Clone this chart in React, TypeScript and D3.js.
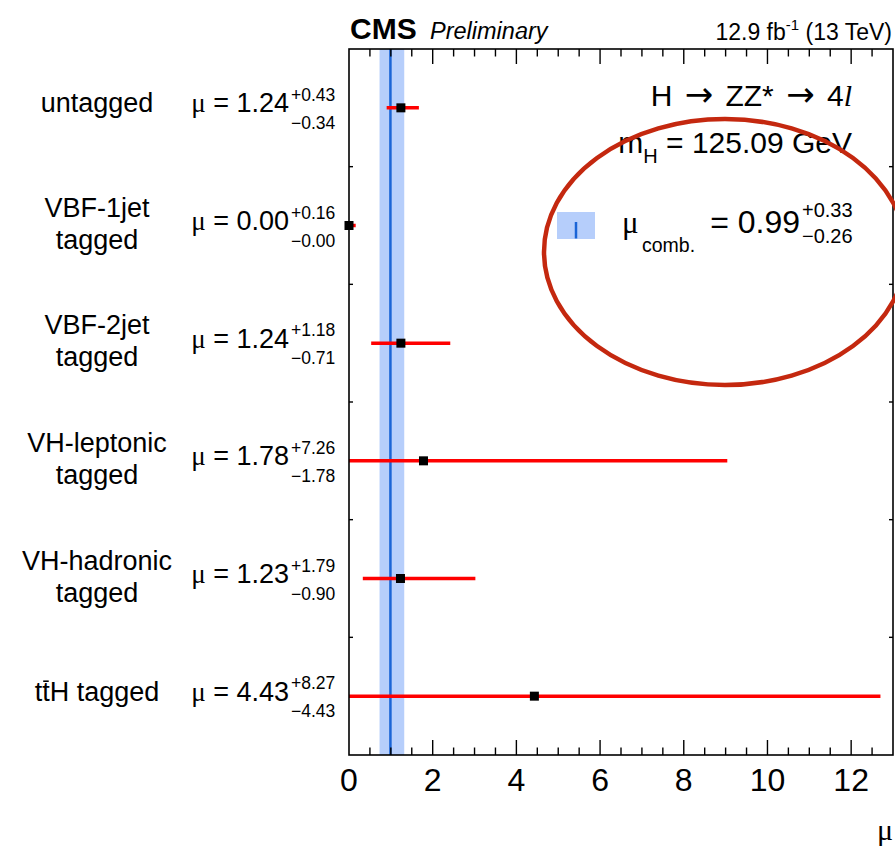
import React, { useEffect, useRef } from "react";
import * as d3 from "d3";

// Signal strength per event category, H -> ZZ* -> 4l
const categoryLabels: string[][] = [
  ["untagged"],
  ["VBF-1jet", "tagged"],
  ["VBF-2jet", "tagged"],
  ["VH-leptonic", "tagged"],
  ["VH-hadronic", "tagged"],
  ["tt\u0304H tagged"],
];
const muValues = [1.24, 0.0, 1.24, 1.78, 1.23, 4.43];
const errUp = [0.43, 0.16, 1.18, 7.26, 1.79, 8.27];
const errDown = [0.34, 0.0, 0.71, 1.78, 0.9, 4.43];

// Combined fit result
const combMu = 0.99;
const combUp = 0.33;
const combDown = 0.26;

const xDomain = [0, 13];
const xMajorTicks = [0, 2, 4, 6, 8, 10, 12];
const xMinorStep = 0.5;

const W = 895;
const H = 848;
const SANS = "'Liberation Sans', Arial, Helvetica, sans-serif";
const SERIF = "'Liberation Serif', 'Times New Roman', serif";
const ARROW_FONT = "'DejaVu Sans', sans-serif";
const BAND = "#b6cefb";
const BLUE = "#1a64d6";
const RED = "#ff0000";

export default function App() {
  const ref = useRef<SVGSVGElement>(null);

  useEffect(() => {
    const svg = d3.select(ref.current);
    svg.selectAll("*").remove();

    const left = 349, right = 893, top = 49, bottom = 755;
    const x = d3.scaleLinear().domain(xDomain).range([left, right]);
    const y = d3
      .scaleBand<number>()
      .domain(d3.range(muValues.length))
      .range([top, bottom])
      .padding(0);
    const cy = (i: number) => (y(i) as number) + y.bandwidth() / 2;
    const fmt = d3.format(".2f");

    svg.append("rect").attr("width", W).attr("height", H).attr("fill", "#fff");

    // combined band + central value
    svg
      .append("rect")
      .attr("x", x(combMu - combDown))
      .attr("y", top)
      .attr("width", x(combMu + combUp) - x(combMu - combDown))
      .attr("height", bottom - top)
      .attr("fill", BAND);
    svg
      .append("line")
      .attr("x1", x(combMu))
      .attr("x2", x(combMu))
      .attr("y1", top)
      .attr("y2", bottom)
      .attr("stroke", BLUE)
      .attr("stroke-width", 2.5);

    const idx = d3.range(muValues.length);

    // per-category error bars
    svg
      .append("g")
      .selectAll("line")
      .data(idx)
      .join("line")
      .attr("x1", (i) => x(muValues[i] - errDown[i]))
      .attr("x2", (i) => x(muValues[i] + errUp[i]))
      .attr("y1", cy)
      .attr("y2", cy)
      .attr("stroke", RED)
      .attr("stroke-width", 3.5);

    const ms = 9;
    svg
      .append("g")
      .selectAll("rect")
      .data(idx)
      .join("rect")
      .attr("x", (i) => x(muValues[i]) - ms / 2)
      .attr("y", (i) => cy(i) - ms / 2)
      .attr("width", ms)
      .attr("height", ms)
      .attr("fill", "#000");

    // frame
    svg
      .append("rect")
      .attr("x", left)
      .attr("y", top)
      .attr("width", right - left)
      .attr("height", bottom - top)
      .attr("fill", "none")
      .attr("stroke", "#000")
      .attr("stroke-width", 1.6);

    // x ticks, bottom and top
    const minor = d3
      .range(xDomain[0], xDomain[1], xMinorStep)
      .filter((v) => !xMajorTicks.includes(v) && v > xDomain[0]);
    const tg = svg.append("g").attr("stroke", "#000").attr("stroke-width", 1.4);
    xMajorTicks
      .filter((v) => v > xDomain[0])
      .forEach((v) => {
        tg.append("line").attr("x1", x(v)).attr("x2", x(v)).attr("y1", bottom).attr("y2", bottom - 15);
        tg.append("line").attr("x1", x(v)).attr("x2", x(v)).attr("y1", top).attr("y2", top + 15);
      });
    minor.forEach((v) => {
      tg.append("line").attr("x1", x(v)).attr("x2", x(v)).attr("y1", bottom).attr("y2", bottom - 7.5);
      tg.append("line").attr("x1", x(v)).attr("x2", x(v)).attr("y1", top).attr("y2", top + 7.5);
    });
    // y ticks at category boundaries
    idx.slice(1).forEach((i) => {
      const yy = y(i) as number;
      tg.append("line").attr("x1", left).attr("x2", left + 4).attr("y1", yy).attr("y2", yy);
      tg.append("line").attr("x1", right).attr("x2", right - 4).attr("y1", yy).attr("y2", yy);
    });

    // x tick labels
    svg
      .append("g")
      .selectAll("text")
      .data(xMajorTicks)
      .join("text")
      .attr("x", (v) => x(v))
      .attr("y", 791)
      .attr("text-anchor", "middle")
      .attr("font-family", SANS)
      .attr("font-size", 32)
      .attr("fill", "#000")
      .text((v) => String(v));

    // axis title
    svg
      .append("text")
      .attr("x", right)
      .attr("y", 840)
      .attr("text-anchor", "end")
      .attr("font-family", SERIF)
      .attr("font-size", 30)
      .text("\u03bc");

    // category names
    const labelFs = 27;
    idx.forEach((i) => {
      const lines = categoryLabels[i];
      const base = lines.length === 1 ? cy(i) + 4.5 : cy(i) - 9;
      lines.forEach((s, k) => {
        const barPos = s.indexOf("\u0304");
        const plain = s.replace("\u0304", "");
        const t = svg
          .append("text")
          .attr("x", 97)
          .attr("y", base + k * 32)
          .attr("text-anchor", "middle")
          .attr("font-family", SANS)
          .attr("font-size", labelFs)
          .attr("fill", "#000")
          .text(plain);
        if (barPos > 0) {
          const node = t.node() as SVGTextElement;
          const ext = node.getExtentOfChar(barPos - 1);
          const by = base + k * 32 - 0.72 * labelFs;
          svg
            .append("line")
            .attr("x1", ext.x + 1)
            .attr("x2", ext.x + ext.width - 1)
            .attr("y1", by)
            .attr("y2", by)
            .attr("stroke", "#000")
            .attr("stroke-width", 1.6);
        }
      });

      // mu value with asymmetric errors
      const mt = svg
        .append("text")
        .attr("x", 289)
        .attr("y", cy(i) + 4.5)
        .attr("text-anchor", "end")
        .attr("font-size", 27)
        .attr("fill", "#000");
      mt.append("tspan").attr("font-family", SERIF).text("\u03bc");
      mt.append("tspan").attr("font-family", SANS).text(" = " + fmt(muValues[i]));
      svg
        .append("text")
        .attr("x", 291)
        .attr("y", cy(i) - 7)
        .attr("font-family", SANS)
        .attr("font-size", 17.5)
        .text("+" + fmt(errUp[i]));
      svg
        .append("text")
        .attr("x", 291)
        .attr("y", cy(i) + 21)
        .attr("font-family", SANS)
        .attr("font-size", 17.5)
        .text("\u2212" + fmt(errDown[i]));
    });

    // header
    svg
      .append("text")
      .attr("x", 350)
      .attr("y", 39)
      .attr("font-family", SANS)
      .attr("font-weight", "bold")
      .attr("font-size", 30)
      .text("CMS");
    svg
      .append("text")
      .attr("x", 430)
      .attr("y", 39)
      .attr("font-family", SANS)
      .attr("font-style", "italic")
      .attr("font-size", 23.5)
      .text("Preliminary");
    const lumi = svg
      .append("text")
      .attr("x", 892)
      .attr("y", 40)
      .attr("text-anchor", "end")
      .attr("font-family", SANS)
      .attr("font-size", 23);
    lumi.append("tspan").text("12.9 fb");
    lumi.append("tspan").attr("font-size", 15).attr("dy", -10).text("-1");
    lumi.append("tspan").attr("dy", 10).text(" (13 TeV)");

    // process / mass annotation
    const proc = svg
      .append("text")
      .attr("x", 852)
      .attr("y", 106)
      .attr("text-anchor", "end")
      .attr("font-family", SANS)
      .attr("font-size", 30);
    proc.append("tspan").text("H ");
    proc.append("tspan").attr("font-family", ARROW_FONT).attr("font-size", 34).attr("dx", 4).text("\u2192");
    proc.append("tspan").attr("dx", 4).text(" ZZ* ");
    proc.append("tspan").attr("font-family", ARROW_FONT).attr("font-size", 34).attr("dx", 4).text("\u2192");
    proc.append("tspan").attr("dx", 4).text(" 4");
    proc.append("tspan").attr("font-family", SERIF).attr("font-style", "italic").text("l");

    const mass = svg
      .append("text")
      .attr("x", 852)
      .attr("y", 153)
      .attr("text-anchor", "end")
      .attr("font-family", SANS)
      .attr("font-size", 30);
    mass.append("tspan").text("m");
    mass.append("tspan").attr("font-size", 20).attr("dy", 10).text("H");
    mass.append("tspan").attr("dy", -10).text(" = 125.09 GeV");

    // legend entry for the combined result
    svg
      .append("rect")
      .attr("x", 557)
      .attr("y", 212)
      .attr("width", 38)
      .attr("height", 27)
      .attr("fill", BAND);
    svg
      .append("line")
      .attr("x1", 576)
      .attr("x2", 576)
      .attr("y1", 222)
      .attr("y2", 238.5)
      .attr("stroke", BLUE)
      .attr("stroke-width", 2.5);
    svg
      .append("text")
      .attr("x", 622)
      .attr("y", 233)
      .attr("font-family", SERIF)
      .attr("font-size", 31)
      .text("\u03bc");
    svg
      .append("text")
      .attr("x", 642)
      .attr("y", 252)
      .attr("font-family", SANS)
      .attr("font-size", 19.5)
      .text("comb.");
    svg
      .append("text")
      .attr("x", 800)
      .attr("y", 233)
      .attr("text-anchor", "end")
      .attr("font-family", SANS)
      .attr("font-size", 32)
      .text("= " + fmt(combMu));
    svg
      .append("text")
      .attr("x", 802)
      .attr("y", 217)
      .attr("font-family", SANS)
      .attr("font-size", 20)
      .text("+" + fmt(combUp));
    svg
      .append("text")
      .attr("x", 802)
      .attr("y", 243)
      .attr("font-family", SANS)
      .attr("font-size", 20)
      .text("\u2212" + fmt(combDown));

    // highlight ring around the combined result
    svg
      .append("ellipse")
      .attr("cx", 725)
      .attr("cy", 252)
      .attr("rx", 181)
      .attr("ry", 133)
      .attr("fill", "none")
      .attr("stroke", "#c4280f")
      .attr("stroke-width", 4.5);
  }, []);

  return (
    <svg
      ref={ref}
      width={W}
      height={H}
      style={{ position: "absolute", left: 0, top: 0, display: "block" }}
    />
  );
}
